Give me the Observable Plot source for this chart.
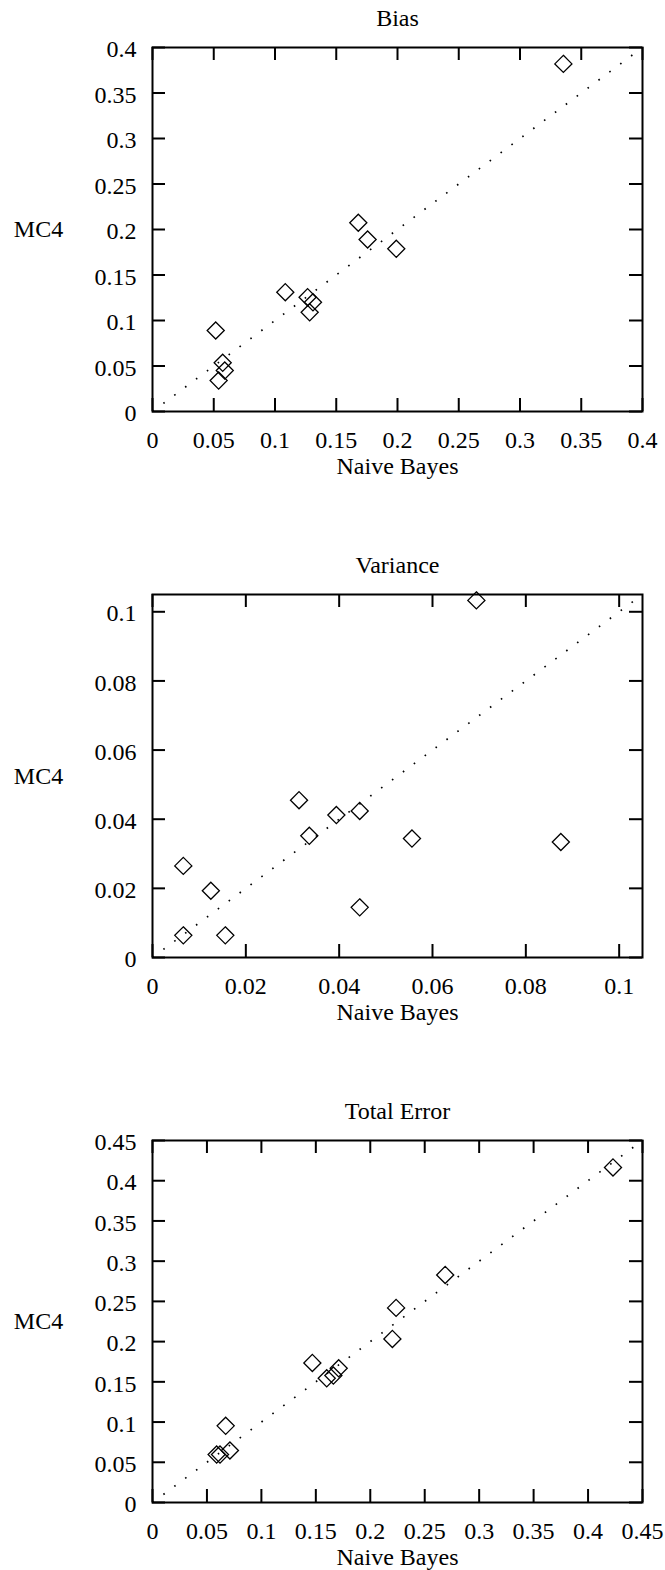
<!DOCTYPE html>
<html>
<head>
<meta charset="utf-8">
<script src="https://cdn.jsdelivr.net/npm/d3@7"></script>
<script src="https://cdn.jsdelivr.net/npm/@observablehq/plot@0.6"></script>
<style>
  html, body { margin: 0; padding: 0; background: white; }
  svg { display: block; }
</style>
</head>
<body>
<div id="chart"></div>
<script>
// ---- Data ----
const xLabel = "Naive Bayes";
const yLabel = "MC4";

const biasTitle = "Bias";
const biasNB  = [0.3354, 0.168, 0.1756, 0.199, 0.1084, 0.1266, 0.131, 0.1283, 0.0516, 0.0573, 0.059, 0.054];
const biasMC4 = [0.382, 0.2074, 0.189, 0.1788, 0.1311, 0.1256, 0.120, 0.109, 0.089, 0.0535, 0.045, 0.034];
const biasDomain = [0, 0.4];
const biasTicks = [0, 0.05, 0.1, 0.15, 0.2, 0.25, 0.3, 0.35, 0.4];

const varTitle = "Variance";
const varNB  = [0.0694, 0.0314, 0.0394, 0.0444, 0.0336, 0.0556, 0.0875, 0.0066, 0.0125, 0.0444, 0.0066, 0.0156];
const varMC4 = [0.1033, 0.0455, 0.0412, 0.0424, 0.0352, 0.0344, 0.0334, 0.0265, 0.0193, 0.0145, 0.0064, 0.0064];
const varDomain = [0, 0.105];
const varTicks = [0, 0.02, 0.04, 0.06, 0.08, 0.1];

const totTitle = "Total Error";
const totNB  = [0.4229, 0.2688, 0.2237, 0.2203, 0.1468, 0.16, 0.1661, 0.171, 0.0672, 0.0589, 0.062, 0.0711];
const totMC4 = [0.4165, 0.2829, 0.2419, 0.2033, 0.1735, 0.1544, 0.1578, 0.1668, 0.0953, 0.0596, 0.0596, 0.0646];
const totDomain = [0, 0.45];
const totTicks = [0, 0.05, 0.1, 0.15, 0.2, 0.25, 0.3, 0.35, 0.4, 0.45];

// ---- Drawing ----
const W = 665, ML = 152, MR = 23, TICK = 13;
const FONT = "'Liberation Serif', 'Times New Roman', serif";

function panel({title, xs, ys, domain, ticks, height, marginTop, marginBottom}) {
  const pts = xs.map((x, i) => ({x, y: ys[i]}));
  const fmt = d => String(d);
  const [lo, hi] = domain;
  const fw = W - ML - MR, fh = height - marginTop - marginBottom;
  // tick length converted from pixels to data units
  const tx = TICK * (hi - lo) / fw, ty = TICK * (hi - lo) / fh;
  const tk = {stroke: "black", strokeWidth: 2};
  return Plot.plot({
    width: W, height,
    marginLeft: ML, marginRight: MR, marginTop, marginBottom,
    style: {fontFamily: FONT, fontSize: "24px", background: "white", color: "black"},
    x: {domain, axis: null},
    y: {domain, axis: null},
    marks: [
      // diagonal y = x (dotted)
      Plot.line(domain.map(d => ({x: d, y: d})), {x: "x", y: "y", stroke: "black",
        strokeWidth: 1.7, strokeDasharray: "1.6,11.95", strokeLinecap: "butt"}),
      // inward ticks on all four sides
      Plot.ruleX(ticks, {x: d => d, y1: lo, y2: lo + ty, ...tk}),
      Plot.ruleX(ticks, {x: d => d, y1: hi - ty, y2: hi, ...tk}),
      Plot.ruleY(ticks, {y: d => d, x1: lo, x2: lo + tx, ...tk}),
      Plot.ruleY(ticks, {y: d => d, x1: hi - tx, x2: hi, ...tk}),
      Plot.frame({stroke: "black", strokeWidth: 2}),
      // tick labels
      Plot.axisX({anchor: "bottom", ticks, tickSize: 0, tickPadding: 19, tickFormat: fmt, label: null, fill: "black"}),
      Plot.axisY({anchor: "left", ticks, tickSize: 0, tickPadding: 16, tickFormat: fmt, label: null, dy: 2, fill: "black"}),
      // points
      Plot.dot(pts, {x: "x", y: "y", symbol: "diamond2", r: 7.7, stroke: "black", strokeWidth: 1.3, fill: "none"}),
      // titles and axis labels
      Plot.text([title], {text: d => d, frameAnchor: "top", dy: -29, lineAnchor: "middle", fontSize: 24, fill: "black"}),
      Plot.text([xLabel], {text: d => d, frameAnchor: "bottom", dy: 55, lineAnchor: "middle", fontSize: 24, fill: "black"}),
      Plot.text([yLabel], {text: d => d, frameAnchor: "left", dx: -114, lineAnchor: "middle", textAnchor: "middle", fontSize: 24, fill: "black"})
    ]
  });
}

const root = document.getElementById("chart");
root.append(panel({title: biasTitle, xs: biasNB, ys: biasMC4, domain: biasDomain, ticks: biasTicks,
  height: 530, marginTop: 47, marginBottom: 119}));
root.append(panel({title: varTitle, xs: varNB, ys: varMC4, domain: varDomain, ticks: varTicks,
  height: 550, marginTop: 64, marginBottom: 123}));
root.append(panel({title: totTitle, xs: totNB, ys: totMC4, domain: totDomain, ticks: totTicks,
  height: 490, marginTop: 60, marginBottom: 68}));
</script>
</body>
</html>
